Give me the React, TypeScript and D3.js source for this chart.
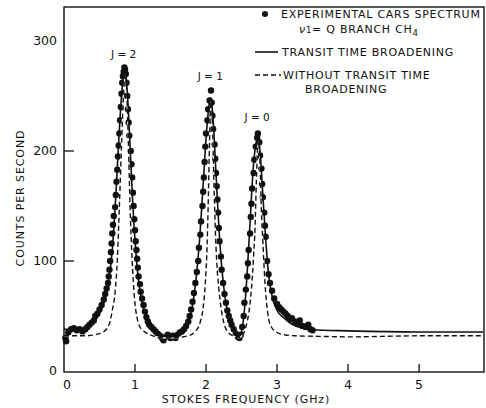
import React from "react";
import * as d3 from "d3";

// experimental CARS spectrum dots [GHz, counts/s]
const measured: [number, number][] = [
  [0.02, 30], [0.03, 27], [0.06, 35], [0.1, 38], [0.14, 39], [0.18, 37], [0.22, 38], [0.26, 36],
  [0.3, 38], [0.33, 40], [0.36, 42], [0.39, 44], [0.42, 46], [0.44, 50], [0.47, 52], [0.5, 56],
  [0.53, 60], [0.56, 65], [0.58, 70], [0.6, 75], [0.62, 80], [0.63, 86], [0.64, 92], [0.65, 100],
  [0.66, 108], [0.67, 116], [0.68, 125], [0.69, 133], [0.7, 141], [0.72, 149], [0.73, 160],
  [0.74, 172], [0.75, 183], [0.76, 195], [0.77, 205], [0.78, 216], [0.79, 228], [0.8, 240],
  [0.81, 252], [0.82, 262], [0.83, 268], [0.84, 272], [0.85, 276], [0.86, 274], [0.87, 270],
  [0.88, 262], [0.89, 250], [0.9, 238], [0.91, 226], [0.92, 214], [0.94, 200], [0.95, 188],
  [0.96, 176], [0.97, 162], [0.98, 150], [0.99, 138], [1.0, 128], [1.01, 118], [1.02, 110],
  [1.03, 102], [1.04, 94], [1.05, 86], [1.07, 79], [1.08, 72], [1.1, 66], [1.12, 60], [1.14, 54],
  [1.16, 49], [1.18, 45], [1.2, 42], [1.23, 40], [1.26, 38], [1.29, 36], [1.32, 34], [1.35, 32],
  [1.38, 30], [1.4, 28], [1.43, 31], [1.46, 33], [1.5, 30], [1.53, 32], [1.57, 30], [1.6, 33],
  [1.63, 35], [1.66, 36], [1.69, 38], [1.72, 41], [1.75, 45], [1.77, 50], [1.79, 56], [1.81, 63],
  [1.83, 71], [1.85, 80], [1.87, 90], [1.89, 100], [1.9, 112], [1.92, 124], [1.93, 136],
  [1.95, 150], [1.96, 163], [1.97, 176], [1.98, 190], [1.99, 204], [2.0, 216], [2.02, 228],
  [2.03, 238], [2.05, 246], [2.07, 255], [2.08, 244], [2.09, 232], [2.1, 220], [2.12, 206],
  [2.13, 193], [2.14, 180], [2.15, 168], [2.16, 156], [2.17, 144], [2.18, 130], [2.19, 118],
  [2.21, 104], [2.22, 92], [2.24, 80], [2.26, 70], [2.28, 62], [2.3, 55], [2.32, 50], [2.34, 46],
  [2.36, 42], [2.39, 38], [2.42, 34], [2.45, 31], [2.47, 30], [2.49, 33], [2.51, 40], [2.53, 50],
  [2.54, 62], [2.56, 74], [2.58, 86], [2.59, 98], [2.6, 110], [2.62, 125], [2.63, 140],
  [2.64, 152], [2.65, 166], [2.67, 180], [2.68, 192], [2.7, 204], [2.72, 212], [2.73, 216],
  [2.75, 208], [2.76, 196], [2.78, 184], [2.79, 170], [2.8, 158], [2.82, 144], [2.83, 132],
  [2.84, 122], [2.86, 100], [2.88, 88], [2.9, 80], [2.93, 73], [2.96, 66], [3.0, 61], [3.03, 58],
  [3.06, 56], [3.09, 54], [3.12, 52], [3.15, 50], [3.18, 47], [3.21, 48], [3.25, 45], [3.29, 43],
  [3.32, 46], [3.36, 41], [3.4, 40], [3.44, 42], [3.47, 38], [3.5, 37],
];

// fit with transit time broadening
const transit: [number, number][] = [
  [0, 38], [0.2, 38], [0.35, 41], [0.45, 47], [0.55, 60], [0.62, 78], [0.68, 110], [0.73, 160],
  [0.78, 220], [0.82, 258], [0.855, 272], [0.89, 255], [0.93, 205], [0.97, 150], [1.01, 110],
  [1.05, 82], [1.1, 62], [1.16, 48], [1.24, 39], [1.35, 33], [1.5, 31], [1.65, 34], [1.74, 42],
  [1.8, 56], [1.86, 84], [1.91, 120], [1.96, 170], [2.01, 220], [2.05, 245], [2.07, 248],
  [2.1, 228], [2.14, 180], [2.18, 132], [2.22, 95], [2.27, 66], [2.33, 47], [2.4, 36],
  [2.46, 32], [2.5, 36], [2.54, 55], [2.58, 90], [2.62, 135], [2.66, 180], [2.7, 206],
  [2.73, 212], [2.76, 200], [2.8, 160], [2.84, 120], [2.88, 88], [2.93, 68], [3.0, 55],
  [3.1, 48], [3.2, 43], [3.35, 39], [3.5, 37.5], [4.0, 36.5], [5.0, 35.5], [5.9, 35.5],
];

// fit without transit time broadening
const noTransit: [number, number][] = [
  [0, 32], [0.3, 32], [0.5, 34], [0.62, 40], [0.68, 55], [0.72, 72], [0.75, 100], [0.78, 150],
  [0.81, 205], [0.84, 255], [0.86, 270], [0.88, 258], [0.91, 200], [0.93, 150], [0.96, 100],
  [0.99, 68], [1.03, 48], [1.07, 40], [1.15, 35], [1.25, 32], [1.45, 30], [1.75, 32],
  [1.85, 36], [1.92, 45], [1.96, 58], [1.99, 80], [2.01, 105], [2.03, 150], [2.05, 210],
  [2.07, 245], [2.09, 225], [2.11, 175], [2.13, 130], [2.15, 100], [2.18, 75], [2.21, 58],
  [2.25, 44], [2.3, 36], [2.38, 32], [2.45, 30], [2.52, 33], [2.56, 40], [2.6, 52], [2.64, 75],
  [2.67, 105], [2.69, 130], [2.71, 175], [2.735, 210], [2.76, 190], [2.78, 145], [2.8, 118],
  [2.83, 80], [2.87, 52], [2.92, 40], [3.0, 35], [3.1, 33], [3.25, 32], [3.6, 31.5], [4.0, 31],
  [5.0, 32], [5.9, 32],
];

const xTicks = [0, 1, 2, 3, 4, 5];
const yTicks = [0, 100, 200, 300];
const peakLabels: { text: string; f: number; v: number }[] = [
  { text: "J = 2", f: 0.84, v: 285 },
  { text: "J = 1", f: 2.06, v: 265 },
  { text: "J = 0", f: 2.72, v: 227 },
];

const W = 486;
const H = 408;
const font = "'DejaVu Sans', sans-serif";

export default function App() {
  const x = d3.scaleLinear().domain([0, 5.9]).range([64, 483]);
  const y = d3.scaleLinear().domain([0, 300]).range([371, 41]);
  const path = d3
    .line<[number, number]>()
    .x((d) => x(d[0]))
    .y((d) => y(d[1]))
    .curve(d3.curveMonotoneX);

  return (
    <svg
      width={W}
      height={H}
      style={{ position: "fixed", left: 0, top: 0, background: "#fff" }}
      fontFamily={font}
    >
      <rect x={64} y={7} width={420} height={365} fill="none" stroke="#111" strokeWidth={1.4} />

      {xTicks.slice(1).map((t) => (
        <line key={"xt" + t} x1={x(t)} x2={x(t)} y1={372} y2={364} stroke="#111" strokeWidth={1.3} />
      ))}
      {yTicks.slice(1, 3).map((t) => (
        <line key={"yt" + t} x1={64} x2={74} y1={y(t)} y2={y(t)} stroke="#111" strokeWidth={1.3} />
      ))}
      {xTicks.map((t) => (
        <text key={"xl" + t} x={x(t) + (t === 0 ? 3 : 0)} y={389} fontSize={12.5} textAnchor="middle" fill="#111">
          {t}
        </text>
      ))}
      {yTicks.map((t) => (
        <text key={"yl" + t} x={57} y={y(t) + 4} fontSize={12.5} textAnchor="end" fill="#111">
          {t}
        </text>
      ))}

      {measured.map((d, i) => (
        <circle key={i} cx={x(d[0])} cy={y(d[1])} r={3.2} fill="#111" />
      ))}

      <path d={path(noTransit) || ""} fill="none" stroke="#fff" strokeWidth={1.3} />
      <path d={path(noTransit) || ""} fill="none" stroke="#111" strokeWidth={1.4} strokeDasharray="5,3" />
      <path d={path(transit) || ""} fill="none" stroke="#111" strokeWidth={1.6} />

      {peakLabels.map((p) => (
        <text key={p.text} x={x(p.f)} y={y(p.v)} fontSize={10.5} textAnchor="middle" fill="#111">
          {p.text}
        </text>
      ))}

      <g fontSize={11} fill="#111" letterSpacing={0.75}>
        <circle cx={265} cy={14} r={3} fill="#111" />
        <text x={281} y={18}>EXPERIMENTAL CARS SPECTRUM</text>
        <text x={299} y={33}>
          <tspan fontStyle="italic">ν</tspan>
          <tspan fontSize={8.5}>1</tspan>
          <tspan>= Q BRANCH CH</tspan>
          <tspan fontSize={8.5} dy={3}>4</tspan>
        </text>
        <line x1={255} x2={278} y1={52} y2={52} stroke="#111" strokeWidth={1.6} />
        <text x={282} y={56}>TRANSIT TIME BROADENING</text>
        <line x1={255} x2={281} y1={75} y2={75} stroke="#111" strokeWidth={1.4} strokeDasharray="5,3" />
        <text x={283} y={79}>WITHOUT TRANSIT TIME</text>
        <text x={305} y={93}>BROADENING</text>
      </g>

      <text x={246} y={403} fontSize={11} textAnchor="middle" fill="#111" letterSpacing={0.9}>
        STOKES FREQUENCY (GHz)
      </text>
      <text
        transform="translate(24,198) rotate(-90)"
        fontSize={11}
        textAnchor="middle"
        fill="#111"
        letterSpacing={0.9}
      >
        COUNTS PER SECOND
      </text>
    </svg>
  );
}
